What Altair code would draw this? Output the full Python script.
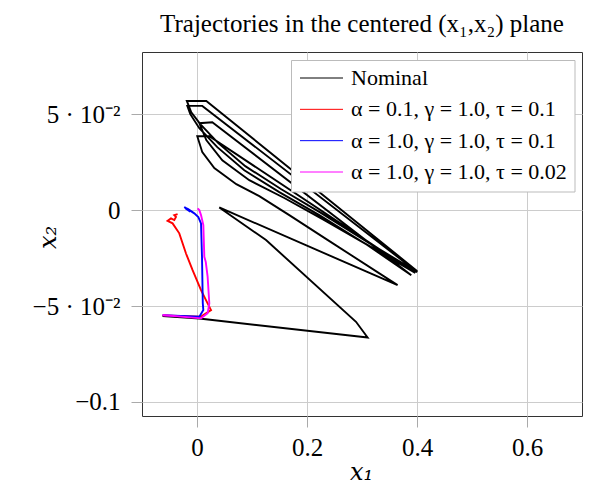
import altair as alt
import pandas as pd

# Nominal trajectory (x1, x2)
nom_x = [-0.0625, 0.0042, 0.3102, 0.2891, 0.1255, 0.0405, 0.3647, 0.2351, 0.1678, 0.1133,
         0.0715, 0.0315, 0.0096, 0.0005, 0.0224, 0.3969, 0.3169, 0.2315, 0.1587, 0.0951,
         0.0460, 0.0169, 0.0042, 0.0278, 0.3896, 0.3096, 0.2224, 0.1496, 0.0860, 0.0369,
         0.0042, -0.0122, -0.0176, 0.0096, 0.4005, 0.3133, 0.2260, 0.1533, 0.0878, 0.0387,
         0.0060, -0.0104, -0.0185, 0.0169, 0.4005]
nom_y = [-0.0552, -0.0565, -0.0664, -0.0582, -0.0156, 0.0014, -0.0391, -0.0151, -0.0026, 0.0073,
         0.0135, 0.0219, 0.0302, 0.0385, 0.0385, -0.0328, -0.0193, -0.0052, 0.0063, 0.0156,
         0.0260, 0.0365, 0.0453, 0.0458, -0.0339, -0.0182, -0.0026, 0.0094, 0.0208, 0.0328,
         0.0427, 0.0500, 0.0543, 0.0543, -0.0323, -0.0172, -0.0016, 0.0109, 0.0229, 0.0349,
         0.0448, 0.0510, 0.0569, 0.0569, -0.0318]

# alpha=0.1, gamma=1.0, tau=0.1
red_x = [-0.0625, 0.0073, 0.0255, 0.0193, 0.0073, -0.0080, -0.0200, -0.0322, -0.0444, -0.0535,
         -0.0473, -0.0413, -0.0382, -0.0413, -0.0353]
red_y = [-0.0549, -0.0555, -0.0521, -0.0486, -0.0417, -0.0313, -0.0226, -0.0121, -0.0069, -0.0056,
         -0.0043, -0.0052, -0.0035, -0.0026, -0.0021]

# alpha=1.0, gamma=1.0, tau=0.1
blue_x = [-0.0625, 0.0042, 0.0115, 0.0105, 0.0091, 0.0073, 0.0024, -0.0049, -0.0140, -0.0231,
          -0.0122, -0.0213, -0.0085, -0.0176, -0.0067]
blue_y = [-0.0548, -0.0556, -0.0521, -0.0484, -0.0245, -0.0069, -0.0036, -0.0017, 0.0000, 0.0016,
          -0.0008, 0.0010, -0.0010, 0.0008, -0.0013]

# alpha=1.0, gamma=1.0, tau=0.02
mag_x = [-0.0625, 0.0073, 0.0193, 0.0224, 0.0193, 0.0160, 0.0133, 0.0115, 0.0073, 0.0042, 0.0011]
mag_y = [-0.0547, -0.0564, -0.0538, -0.0486, -0.0347, -0.0271, -0.0243, -0.0078, -0.0026, 0.0000, 0.0009]

labels = ["Nominal", "α = 0.1, γ = 1.0, τ = 0.1", "α = 1.0, γ = 1.0, τ = 0.1", "α = 1.0, γ = 1.0, τ = 0.02"]
colors = ["#000000", "#ff0000", "#0000ff", "#ff00ff"]

x_ticks = [0, 0.2, 0.4, 0.6]
y_ticks = [-0.1, -0.05, 0, 0.05]

frames = []
for lab, xs, ys in zip(labels, [nom_x, red_x, blue_x, mag_x], [nom_y, red_y, blue_y, mag_y]):
    frames.append(pd.DataFrame({"x1": xs, "x2": ys, "step": list(range(len(xs))), "series": lab}))

color_scale = alt.Scale(domain=labels, range=colors)

xs = alt.X(
    "x1:Q",
    scale=alt.Scale(domain=[-0.1, 0.7], nice=False, zero=False),
    axis=alt.Axis(values=x_ticks, labelExpr="datum.value == 0 ? '0' : format(datum.value, '.1f')",
                  title="x₁", titleFontStyle="italic", titleX=219, titleY=56,
                  titleBaseline="middle", titleAlign="center", titleAngle=0),
)
ys = alt.Y(
    "x2:Q",
    scale=alt.Scale(domain=[-0.1073, 0.0824], nice=False, zero=False),
    axis=alt.Axis(values=y_ticks,
                  labelExpr="datum.value == 0.05 ? '5 · 10⁻²' : datum.value == -0.05 ? '−5 · 10⁻²' : datum.value == 0 ? '0' : '−0.1'",
                  title="x₂", titleFontStyle="italic", titleX=-94, titleY=185,
                  titleBaseline="middle", titleAlign="center", titleAngle=270),
)

data_layers = []
for df in frames:
    data_layers.append(
        alt.Chart(df).mark_line(strokeWidth=1.9, clip=True).encode(
            x=xs, y=ys,
            color=alt.Color("series:N", scale=color_scale, legend=None),
            order="step:Q",
        )
    )
data_chart = alt.layer(*data_layers)

# legend (drawn as marks, rows placed by a row scale)
leg_df = pd.DataFrame({"series": labels, "row": list(range(len(labels)))})
row_y = alt.Y("row:Q", scale=alt.Scale(domain=[0, 3], range=[26, 120]), axis=None)

leg_box = alt.Chart(pd.DataFrame({"b": [0]})).mark_rect(
    fill="#ffffff", stroke="#bbbbbb", strokeWidth=1
).encode(x=alt.value(149.5), x2=alt.value(433), y=alt.value(8.5), y2=alt.value(140))

leg_rules = alt.Chart(leg_df).mark_rule(strokeWidth=1).encode(
    x=alt.value(158), x2=alt.value(201), y=row_y,
    color=alt.Color("series:N", scale=color_scale, legend=None),
)
leg_text = alt.Chart(leg_df).mark_text(
    align="left", baseline="middle", font="Liberation Serif", fontSize=22, color="#000000"
).encode(x=alt.value(209), y=row_y, text="series:N")

legend_chart = alt.layer(leg_box, leg_rules, leg_text)

chart = alt.layer(data_chart, legend_chart).resolve_scale(
    y="independent", x="independent"
).properties(
    width=440,
    height=364,
    autosize=alt.AutoSizeParams(type="none"),
    padding={"left": 134, "top": 44, "right": 6, "bottom": 70},
    title=alt.TitleParams(
        "Trajectories in the centered (x₁,x₂) plane",
        font="Liberation Serif",
        fontSize=25,
        fontWeight="normal",
        color="#000000",
        anchor="middle",
        offset=15,
    ),
).configure_view(
    stroke="#333333", strokeWidth=1
).configure_axis(
    grid=True,
    gridColor="#cccccc",
    gridWidth=1,
    domain=False,
    tickColor="#aaaaaa",
    tickSize=11,
    labelFont="Liberation Serif",
    labelFontSize=25,
    labelColor="#000000",
    titleFont="DejaVu Serif",
    titleFontSize=24,
    titleFontWeight="normal",
    titleColor="#000000",
).configure_axisX(
    labelPadding=8,
).configure_axisY(
    labelPadding=11,
)

chart.save("out.html", embed_options={"renderer": "svg", "actions": False})
